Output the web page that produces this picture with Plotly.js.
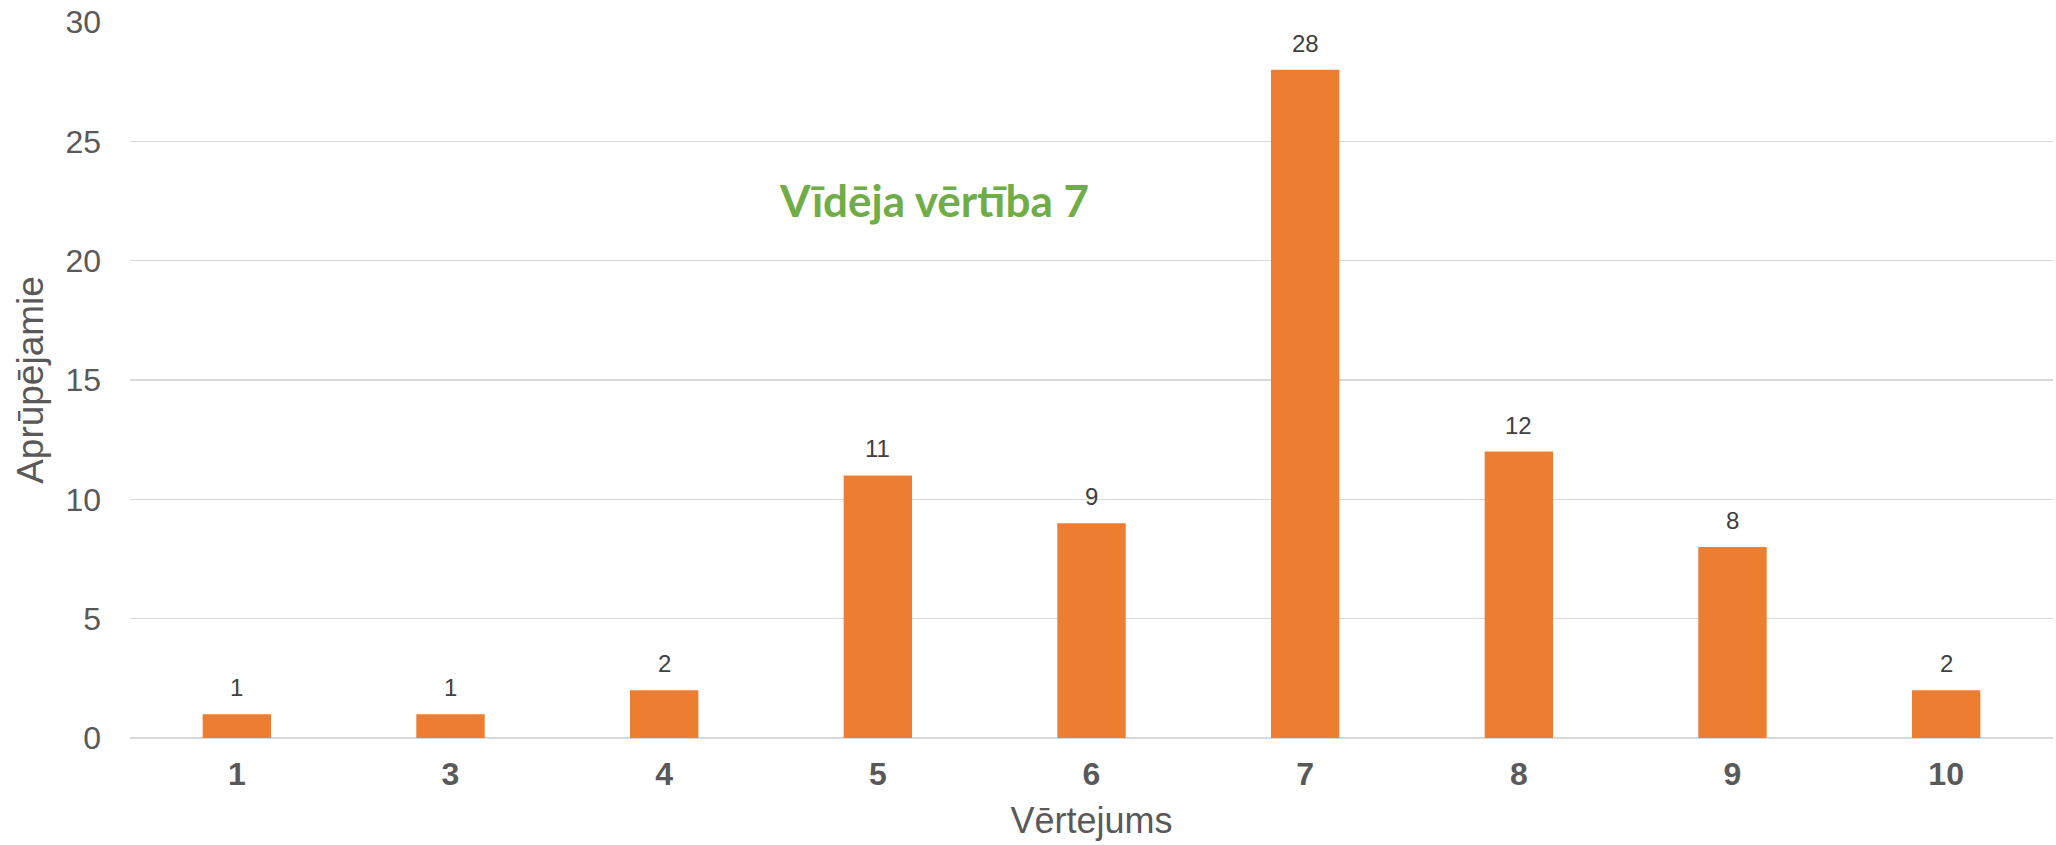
<!DOCTYPE html>
<html>
<head>
<meta charset="utf-8">
<script src="https://cdn.plot.ly/plotly-3.0.1.min.js"></script>
<style>html,body{margin:0;padding:0;background:#fff;}#chart{width:2056px;height:845px;}</style>
</head>
<body>
<div id="chart"></div>
<script>
const categories = ["1", "3", "4", "5", "6", "7", "8", "9", "10"];
const values = [1, 1, 2, 11, 9, 28, 12, 8, 2];
const yTicks = [0, 5, 10, 15, 20, 25, 30];
const xTitle = "Vērtejums";
const yTitle = "Aprūpējamie";
const noteText = "Vīdēja vērtība 7";

const trace = {
  type: "bar",
  x: categories,
  y: values,
  marker: {color: "#ED7D31"},
  hoverinfo: "x+y"
};

const labelAnnotations = categories.map((c, i) => ({
  x: i, y: values[i], xref: "x", yref: "y",
  text: String(values[i]), showarrow: false,
  yanchor: "bottom", yshift: 11,
  font: {family: "Liberation Sans, Arial, sans-serif", size: 24, color: "#404040"}
}));

const layout = {
  width: 2056, height: 845,
  margin: {l: 130, r: 3, t: 22, b: 107},
  paper_bgcolor: "#fff", plot_bgcolor: "#fff",
  bargap: 0.68,
  showlegend: false,
  xaxis: {
    type: "category",
    range: [-0.5, categories.length - 0.5],
    autorange: false,
    showgrid: false,
    showline: false,
    zeroline: false,
    ticks: "",
    ticklabelstandoff: 14,
    tickfont: {family: "Liberation Sans, Arial, sans-serif", size: 32, color: "#595959", weight: "bold"},
    title: {text: xTitle, standoff: 16, font: {family: "Liberation Sans, Arial, sans-serif", size: 36, color: "#595959"}}
  },
  yaxis: {
    range: [0, 30],
    autorange: false,
    tickvals: yTicks,
    showgrid: true,
    gridcolor: "#D9D9D9",
    gridwidth: 1.5,
    zeroline: true,
    zerolinecolor: "#D9D9D9",
    zerolinewidth: 1.5,
    showline: false,
    ticks: "",
    ticklabelstandoff: 28,
    tickfont: {family: "Liberation Sans, Arial, sans-serif", size: 32, color: "#595959"},
    title: {text: yTitle, standoff: 10, font: {family: "Liberation Sans, Arial, sans-serif", size: 37, color: "#595959"}}
  },
  annotations: labelAnnotations.concat([{
    xref: "paper", yref: "paper", x: 0.418, y: 0.751,
    xanchor: "center", yanchor: "middle",
    text: "<b>" + noteText + "</b>", showarrow: false,
    font: {family: "Lato, sans-serif", size: 44, color: "#70AD47"}
  }])
};

Plotly.newPlot("chart", [trace], layout, {displayModeBar: false, staticPlot: true});
</script>
</body>
</html>
